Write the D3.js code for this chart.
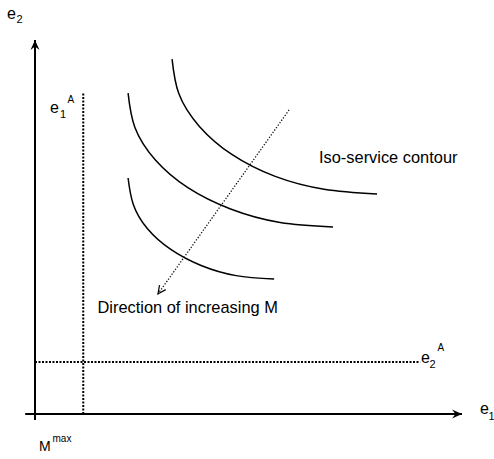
<!DOCTYPE html>
<html>
<head>
<meta charset="utf-8">
<script src="https://cdn.jsdelivr.net/npm/d3@7/dist/d3.min.js"></script>
<style>
  html, body { margin: 0; padding: 0; background: #fff; }
  svg { display: block; }
  text { font-family: "Liberation Sans", Arial, sans-serif; fill: #000; }
</style>
</head>
<body>
<svg id="chart" width="494" height="459"></svg>
<script>
// Iso-service contours in the (e1, e2) plane, lowest M first
const contourLow  = [[2.18, 6.31], [2.30, 5.61], [2.63, 4.96], [3.18, 4.40], [3.89, 3.97], [4.71, 3.70], [5.60, 3.61]];
const contourMid  = [[2.18, 8.58], [2.34, 7.66], [2.82, 6.79], [3.58, 6.05], [4.58, 5.48], [5.74, 5.12], [6.98, 5.00]];
const contourHigh = [[3.21, 9.49], [3.37, 8.56], [3.85, 7.69], [4.61, 6.94], [5.61, 6.36], [6.77, 6.01], [8.01, 5.88]];

// Direction of increasing M (from -> to)
const directionArrow = [[5.95, 8.13], [2.88, 3.21]];

// Bounds e1^A and e2^A
const e1A = 1.13;          // vertical bound on e1
const e1ATop = 8.61;       // top of the vertical bound
const e2A = 1.39;          // horizontal bound on e2
const e2ARight = 9.02;     // right end of the horizontal bound

const svg = d3.select("#chart");

const x = d3.scaleLinear().domain([0, 10]).range([35, 462]);
const y = d3.scaleLinear().domain([0, 10]).range([414, 40]);

// Arrowheads
const defs = svg.append("defs");
defs.append("marker")
  .attr("id", "axisHead")
  .attr("viewBox", "-12 -6 14 12")
  .attr("refX", 0).attr("refY", 0)
  .attr("markerWidth", 14).attr("markerHeight", 12)
  .attr("markerUnits", "userSpaceOnUse")
  .attr("orient", "auto")
  .append("path")
  .attr("d", "M0,0 L-10,-4.5 L-6.5,0 L-10,4.5 Z")
  .attr("fill", "#000");

defs.append("marker")
  .attr("id", "openHead")
  .attr("viewBox", "-12 -6 14 12")
  .attr("refX", 0).attr("refY", 0)
  .attr("markerWidth", 14).attr("markerHeight", 12)
  .attr("markerUnits", "userSpaceOnUse")
  .attr("orient", "auto")
  .append("path")
  .attr("d", "M-8,-3.8 L0,0 L-8,3.8")
  .attr("fill", "none")
  .attr("stroke", "#000")
  .attr("stroke-width", 1.2);

// Axes
svg.append("line")
  .attr("x1", x(-0.23)).attr("y1", y(0))
  .attr("x2", x(10)).attr("y2", y(0))
  .attr("stroke", "#000").attr("stroke-width", 2)
  .attr("marker-end", "url(#axisHead)");

svg.append("line")
  .attr("x1", x(0)).attr("y1", y(-0.16))
  .attr("x2", x(0)).attr("y2", y(10))
  .attr("stroke", "#000").attr("stroke-width", 2)
  .attr("marker-end", "url(#axisHead)");

// Dotted bounds
svg.append("line")
  .attr("x1", x(e1A)).attr("y1", y(0))
  .attr("x2", x(e1A)).attr("y2", y(e1ATop))
  .attr("stroke", "#000").attr("stroke-width", 2)
  .attr("stroke-dasharray", "2,1.5");

svg.append("line")
  .attr("x1", x(0)).attr("y1", y(e2A))
  .attr("x2", x(e2ARight)).attr("y2", y(e2A))
  .attr("stroke", "#000").attr("stroke-width", 2)
  .attr("stroke-dasharray", "2,1.5");

// Contours
const line = d3.line()
  .x(d => x(d[0]))
  .y(d => y(d[1]))
  .curve(d3.curveNatural);

svg.selectAll("path.contour")
  .data([contourLow, contourMid, contourHigh])
  .join("path")
  .attr("class", "contour")
  .attr("d", line)
  .attr("fill", "none")
  .attr("stroke", "#000")
  .attr("stroke-width", 1.5);

// Direction arrow
svg.append("line")
  .attr("x1", x(directionArrow[0][0])).attr("y1", y(directionArrow[0][1]))
  .attr("x2", x(directionArrow[1][0])).attr("y2", y(directionArrow[1][1]))
  .attr("stroke", "#111").attr("stroke-width", 1.3)
  .attr("stroke-dasharray", "1.3,1.7")
  .attr("marker-end", "url(#openHead)");

// Labels
function label(px, py, txt, size) {
  return svg.append("text").attr("x", px).attr("y", py)
    .attr("font-size", size).text(txt);
}

// e2 (vertical axis)
label(7, 19, "e", 16);
label(16.5, 23, "2", 11);

// e1 (horizontal axis)
label(480, 414, "e", 16);
label(488.5, 420, "1", 11);

// e1^A
label(50, 113, "e", 16);
label(60, 117.5, "1", 11);
label(67.5, 103, "A", 10);

// e2^A
label(421, 363, "e", 16);
label(429.5, 368, "2", 11);
label(437.5, 350.5, "A", 10);

// M^max
label(39, 451, "M", 14);
label(52.5, 442, "max", 10);

label(319, 163, "Iso-service contour", 16.4);
label(97.5, 313, "Direction of increasing M", 16.4);
</script>
</body>
</html>
